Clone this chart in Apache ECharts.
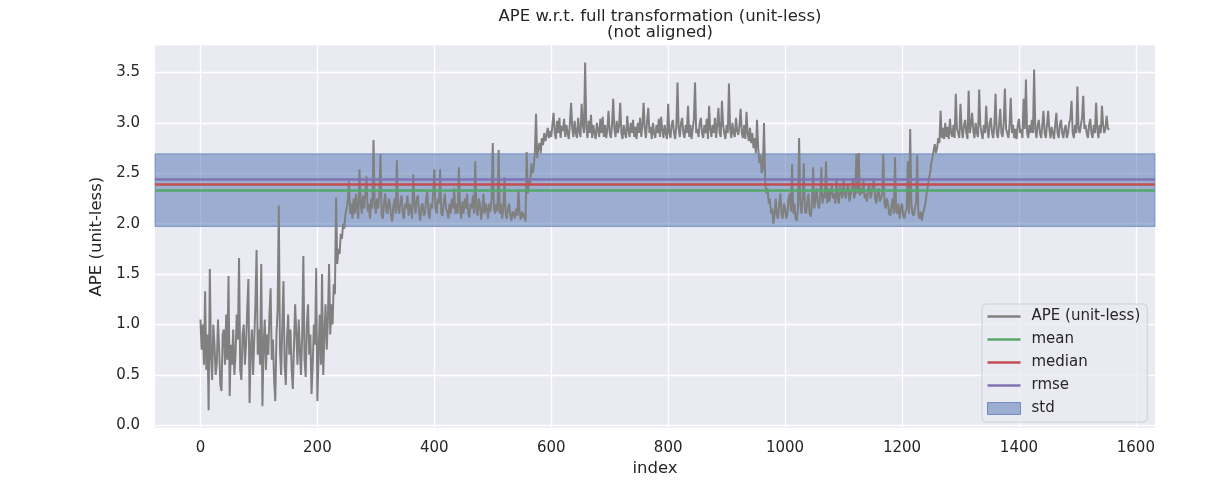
<!DOCTYPE html>
<html>
<head>
<meta charset="utf-8">
<title>APE w.r.t. full transformation</title>
<script src="https://cdn.jsdelivr.net/npm/echarts@6/dist/echarts.min.js"></script>
<style>
  html, body { margin: 0; padding: 0; background: #ffffff; }
  #container { width: 1213px; height: 483px; }
</style>
</head>
<body>
<div id="container"></div>
<script type="text/javascript">
    // APE per pose, every 2nd index (0 .. 1554)
    var sampleStep = 2;
    var apeValues = [
        1.05, 0.75, 1.0, 0.6, 1.33, 0.55, 0.9, 0.15, 1.55, 0.7, 0.45, 1.0, 0.8, 0.5, 0.62, 1.05, 0.75, 0.4, 0.34, 0.9, 0.95, 0.6, 1.1, 0.65, 1.48,
        0.29, 0.8, 0.6, 0.95, 0.5, 0.7, 1.1, 0.85, 1.66, 0.55, 0.45, 0.9, 1.0, 0.6, 0.8, 1.15, 1.45, 0.22, 0.75, 0.95, 0.5, 0.85, 1.2, 1.74, 0.7,
        0.95, 0.6, 1.6, 0.19, 0.8, 1.05, 0.55, 0.9, 0.7, 1.1, 1.36, 0.65, 0.85, 0.45, 0.24, 0.9, 1.15, 2.18, 0.75, 0.5, 1.0, 1.43, 0.6, 0.4, 0.85,
        1.1, 0.7, 0.95, 0.55, 0.36, 0.8, 1.2, 0.9, 0.6, 1.05, 0.75, 0.5, 0.9, 1.68, 0.65, 0.48, 1.0, 1.2, 0.7, 0.9, 0.31, 0.6, 1.0, 0.8, 1.56,
        0.24, 0.7, 1.1, 0.6, 1.5, 0.5, 0.9, 1.2, 0.75, 1.05, 1.6, 0.9, 1.2, 1.0, 1.4, 1.3, 2.26, 1.6, 1.75, 1.7, 1.9, 1.85, 2.0, 1.95, 2.1,
        2.15, 2.23, 2.42, 2.1, 2.2, 2.05, 2.25, 2.1, 2.3, 2.15, 2.05, 2.54, 2.2, 2.1, 2.28, 2.15, 2.3, 2.47, 2.12, 2.2, 2.05, 2.25, 2.15, 2.83, 2.2,
        2.1, 2.25, 2.15, 2.3, 2.69, 2.08, 2.05, 2.2, 2.3, 2.12, 2.1, 2.25, 2.2, 2.08, 2.02, 2.18, 2.25, 2.1, 2.63, 2.15, 2.1, 2.22, 2.28, 2.1, 2.05,
        2.2, 2.15, 2.28, 2.08, 2.2, 2.15, 2.05, 2.49, 2.2, 2.1, 2.25, 2.28, 2.1, 2.03, 2.18, 2.2, 2.08, 2.1, 2.25, 2.32, 2.1, 2.05, 2.2, 2.15, 2.3,
        2.54, 2.15, 2.1, 2.25, 2.2, 2.54, 2.1, 2.08, 2.2, 2.3, 2.15, 2.12, 2.05, 2.2, 2.1, 2.25, 2.15, 2.35, 2.1, 2.2, 2.1, 2.56, 2.15, 2.05, 2.22,
        2.1, 2.25, 2.15, 2.3, 2.1, 2.06, 2.2, 2.15, 2.28, 2.1, 2.62, 2.15, 2.08, 2.25, 2.2, 2.04, 2.12, 2.3, 2.1, 2.2, 2.15, 2.05, 2.2, 2.12, 2.25,
        2.8, 2.15, 2.1, 2.2, 2.12, 2.73, 2.1, 2.2, 2.05, 2.15, 2.46, 2.1, 2.05, 2.15, 2.2, 2.08, 2.03, 2.12, 2.1, 2.05, 2.15, 2.08, 2.34, 2.1, 2.04,
        2.12, 2.06, 2.1, 2.02, 2.71, 2.3, 2.45, 2.38, 2.6, 2.5, 2.55, 2.7, 3.09, 2.65, 2.75, 2.8, 2.7, 2.85, 2.78, 2.9, 2.82, 2.88, 2.95, 2.85, 2.92,
        2.86, 2.98, 3.1, 2.9, 2.84, 3.02, 2.9, 3.05, 2.85, 2.97, 2.92, 3.04, 2.86, 2.98, 2.9, 2.84, 3.0, 3.2, 2.94, 2.86, 3.02, 2.9, 2.85, 3.05, 2.92,
        2.86, 3.19, 2.98, 2.9, 3.6, 2.95, 2.85, 3.02, 2.9, 3.08, 2.85, 2.98, 2.9, 2.84, 3.0, 2.93, 2.86, 3.04, 2.9, 3.06, 2.86, 2.98, 2.85, 2.94, 3.12,
        2.9, 2.85, 2.98, 3.24, 2.94, 2.86, 3.02, 2.9, 2.97, 3.2, 2.9, 2.84, 2.98, 2.9, 2.85, 3.07, 2.93, 2.86, 3.0, 2.9, 3.03, 2.86, 2.96, 2.84, 3.0,
        2.9, 3.05, 2.86, 2.98, 3.2, 2.94, 2.85, 3.02, 3.15, 2.9, 2.96, 2.84, 3.0, 2.9, 2.85, 2.98, 2.9, 3.04, 2.86, 3.06, 2.93, 2.85, 2.98, 2.9, 2.84,
        3.19, 2.9, 2.85, 2.98, 3.03, 2.9, 2.84, 2.97, 3.4, 2.94, 2.86, 3.0, 3.05, 2.9, 2.85, 2.98, 2.9, 3.17, 2.86, 2.98, 2.84, 2.94, 3.03, 3.4, 2.9,
        2.94, 2.86, 3.0, 3.05, 2.9, 2.85, 2.98, 2.9, 3.04, 2.84, 3.17, 2.94, 2.86, 2.98, 2.9, 3.05, 2.85, 2.98, 3.15, 2.9, 2.86, 3.22, 2.98, 2.9, 2.84,
        2.98, 2.9, 3.39, 2.94, 2.85, 3.0, 2.9, 2.86, 3.05, 2.92, 2.88, 2.98, 3.14, 2.9, 2.85, 2.98, 2.84, 3.11, 2.9, 2.82, 2.95, 2.8, 2.9, 2.75, 2.85,
        2.7, 3.03, 2.75, 2.6, 2.68, 2.5, 2.55, 3.0, 2.4, 2.3, 2.35, 2.2, 2.25, 2.1, 2.15, 2.0, 2.1, 2.25, 2.08, 2.05, 2.2, 2.3, 2.1, 2.05, 2.2,
        2.15, 2.05, 2.1, 2.25, 2.3, 2.12, 2.59, 2.1, 2.2, 2.05, 2.03, 2.15, 2.85, 2.2, 2.1, 2.25, 2.6, 2.12, 2.1, 2.22, 2.3, 2.1, 2.07, 2.2, 2.56,
        2.15, 2.25, 2.35, 2.2, 2.15, 2.28, 2.56, 2.2, 2.3, 2.25, 2.62, 2.2, 2.35, 2.22, 2.3, 2.4, 2.25, 2.3, 2.2, 2.45, 2.25, 2.2, 2.38, 2.3, 2.25,
        2.45, 2.3, 2.25, 2.35, 2.4, 2.22, 2.28, 2.35, 2.45, 2.25, 2.3, 2.69, 2.3, 2.7, 2.28, 2.35, 2.3, 2.45, 2.25, 2.3, 2.22, 2.35, 2.4, 2.25, 2.3,
        2.38, 2.45, 2.25, 2.2, 2.3, 2.35, 2.22, 2.25, 2.3, 2.69, 2.2, 2.15, 2.25, 2.2, 2.1, 2.08, 2.18, 2.25, 2.1, 2.66, 2.12, 2.1, 2.2, 2.05, 2.15,
        2.2, 2.08, 2.05, 2.12, 2.15, 2.62, 2.1, 2.94, 2.2, 2.1, 2.08, 2.15, 2.2, 2.68, 2.1, 2.05, 2.12, 2.03, 2.1, 2.15, 2.2, 2.3, 2.36, 2.45, 2.5,
        2.6, 2.65, 2.72, 2.79, 2.7, 2.75, 2.85, 2.8, 3.12, 2.85, 2.95, 2.84, 3.0, 2.86, 2.96, 2.84, 3.04, 2.9, 2.86, 2.98, 2.85, 3.29, 2.94, 2.9, 2.85,
        3.19, 2.94, 2.85, 2.98, 3.03, 2.9, 2.84, 3.32, 2.9, 2.98, 3.1, 2.92, 2.85, 3.0, 2.9, 2.86, 3.33, 2.98, 2.9, 2.84, 2.98, 2.9, 3.17, 2.94, 2.85,
        3.0, 3.05, 2.9, 2.85, 2.98, 3.29, 2.9, 2.85, 2.98, 3.14, 2.9, 2.86, 3.0, 3.34, 2.94, 2.9, 2.85, 2.98, 3.25, 2.9, 2.98, 2.85, 2.94, 2.84, 2.98,
        3.04, 2.9, 2.94, 2.85, 3.24, 2.94, 3.43, 2.9, 2.85, 2.98, 2.9, 3.03, 2.9, 3.53, 2.94, 2.85, 2.98, 3.03, 2.9, 2.85, 2.98, 3.12, 2.9, 2.85, 2.98,
        3.12, 2.94, 2.85, 2.96, 2.9, 2.84, 2.98, 3.1, 2.9, 2.85, 2.98, 3.03, 2.9, 2.85, 2.94, 2.98, 2.85, 2.9, 3.0, 3.04, 3.22, 2.9, 2.85, 2.98, 2.9,
        3.36, 2.94, 2.9, 2.98, 3.05, 3.27, 2.94, 2.98, 2.9, 2.85, 2.98, 3.04, 2.9, 2.85, 2.98, 2.9, 3.2, 2.94, 2.85, 2.98, 2.9, 3.17, 2.98, 2.9, 2.94,
        3.07, 2.95, 2.93
    ];
    var meanVal = 2.333;
    var medianVal = 2.393;
    var rmseVal = 2.442;
    var stdVal = 0.36;
    var legendNames = ['APE (unit-less)', 'mean', 'median', 'rmse', 'std'];

    var apeData = apeValues.map(function (v, i) { return [i * sampleStep, v]; });

    var chartDom = document.getElementById('container');
    var myChart = echarts.init(chartDom, null, { renderer: 'canvas' });
    var option;

    var font = 'DejaVu Sans';
    var textColor = '#262626';
    const colors = ['#808080', '#55a868', '#c44e52', '#8172b2', 'rgba(76,114,176,0.5)'];
    // flat bar used as the legend handle of the line entries
    var lineIcon = 'path://M0,0L33,0L33,2.5L0,2.5Z';

    option = {
        animation: false,
        backgroundColor: '#ffffff',
        title: {
            text: 'APE w.r.t. full transformation (unit-less)\n(not aligned)',
            left: 655,
            top: 4,
            textAlign: 'center',
            textStyle: {
                fontFamily: font,
                fontSize: 16.5,
                fontWeight: 'normal',
                color: textColor,
                lineHeight: 16,
                align: 'center'
            }
        },
        grid: {
            left: 155,
            right: 58,
            top: 45.5,
            bottom: 55.3,
            outerBoundsMode: 'none',
            containLabel: false,
            show: true,
            backgroundColor: '#eaeaf2',
            borderWidth: 0
        },
        legend: {
            orient: 'vertical',
            left: 982,
            top: 304,
            padding: [5, 7, 6, 5],
            itemWidth: 33,
            itemHeight: 12,
            itemGap: 8,
            symbolKeepAspect: true,
            backgroundColor: 'rgba(234,234,242,0.8)',
            borderColor: '#cfcfd6',
            borderWidth: 1,
            borderRadius: 4,
            textStyle: {
                fontFamily: font,
                fontSize: 15,
                color: textColor,
                lineHeight: 15,
                padding: [0, 0, 0, 6]
            },
            data: [
                { name: legendNames[0], icon: lineIcon, itemStyle: { color: colors[0] } },
                { name: legendNames[1], icon: lineIcon, itemStyle: { color: colors[1] } },
                { name: legendNames[2], icon: lineIcon, itemStyle: { color: colors[2] } },
                { name: legendNames[3], icon: lineIcon, itemStyle: { color: colors[3] } },
                { name: legendNames[4], icon: 'rect', itemStyle: { color: colors[4], borderColor: 'rgba(76,114,176,0.7)', borderWidth: 1 } }
            ]
        },
        xAxis: {
            type: 'value',
            min: -77.75,
            max: 1632.75,
            splitNumber: 8,
            name: 'index',
            nameLocation: 'middle',
            nameGap: 33,
            nameTextStyle: { fontFamily: font, fontSize: 16.5, color: textColor },
            axisLine: { show: false },
            axisTick: { show: false },
            axisLabel: {
                fontFamily: font,
                fontSize: 15,
                color: textColor,
                margin: 13,
                showMinLabel: false,
                showMaxLabel: false,
                formatter: function (v) { return (v % 200 === 0) ? String(v) : ''; }
            },
            splitLine: {
                show: true,
                showMinLine: false,
                showMaxLine: false,
                lineStyle: { color: '#ffffff', width: 1.3 }
            }
        },
        yAxis: {
            type: 'value',
            min: -0.024,
            max: 3.768,
            splitNumber: 8,
            name: 'APE (unit-less)',
            nameLocation: 'middle',
            nameGap: 45,
            nameRotate: 90,
            nameTextStyle: { fontFamily: font, fontSize: 16.5, color: textColor },
            axisLine: { show: false },
            axisTick: { show: false },
            axisLabel: {
                fontFamily: font,
                fontSize: 15,
                color: textColor,
                margin: 15,
                showMinLabel: false,
                showMaxLabel: false,
                formatter: function (v) {
                    return Math.abs(v * 2 - Math.round(v * 2)) < 1e-6 ? v.toFixed(1) : '';
                }
            },
            splitLine: {
                show: true,
                showMinLine: false,
                showMaxLine: false,
                lineStyle: { color: '#ffffff', width: 1.3 }
            }
        },
        series: [
            {
                name: legendNames[4],
                type: 'line',
                data: [],
                z: 1,
                color: colors[4],
                silent: true,
                markArea: {
                    silent: true,
                    itemStyle: {
                        color: colors[4],
                        borderColor: 'rgba(76,114,176,0.6)',
                        borderWidth: 1
                    },
                    data: [[{ yAxis: meanVal - stdVal }, { yAxis: meanVal + stdVal }]]
                }
            },
            {
                name: legendNames[0],
                type: 'line',
                data: apeData,
                z: 2,
                color: colors[0],
                symbol: 'none',
                silent: true,
                lineStyle: { color: colors[0], width: 2 }
            },
            {
                name: legendNames[1],
                type: 'line',
                data: [],
                z: 3,
                color: colors[1],
                symbol: 'none',
                markLine: {
                    silent: true,
                    symbol: 'none',
                    label: { show: false },
                    lineStyle: { color: colors[1], width: 2.5, type: 'solid' },
                    data: [{ yAxis: meanVal }]
                }
            },
            {
                name: legendNames[2],
                type: 'line',
                data: [],
                z: 3,
                color: colors[2],
                symbol: 'none',
                markLine: {
                    silent: true,
                    symbol: 'none',
                    label: { show: false },
                    lineStyle: { color: colors[2], width: 2.5, type: 'solid' },
                    data: [{ yAxis: medianVal }]
                }
            },
            {
                name: legendNames[3],
                type: 'line',
                data: [],
                z: 3,
                color: colors[3],
                symbol: 'none',
                markLine: {
                    silent: true,
                    symbol: 'none',
                    label: { show: false },
                    lineStyle: { color: colors[3], width: 2.5, type: 'solid' },
                    data: [{ yAxis: rmseVal }]
                }
            }
        ]
    };

    option && myChart.setOption(option);
</script>
</body>
</html>
